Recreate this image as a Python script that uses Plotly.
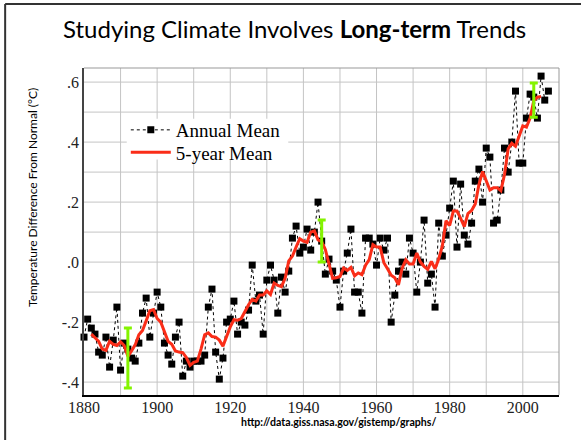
import plotly.graph_objects as go

# ---- data ----
years = list(range(1880, 2008))
annual_mean = [
    -0.25, -0.19, -0.22, -0.24, -0.30, -0.31, -0.25, -0.35, -0.26, -0.15,
    -0.36, -0.27, -0.29, -0.32, -0.33, -0.27, -0.17, -0.12, -0.25, -0.17,
    -0.10, -0.15, -0.27, -0.31, -0.34, -0.25, -0.20, -0.38, -0.33, -0.35,
    -0.33, -0.33, -0.33, -0.31, -0.15, -0.09, -0.30, -0.39, -0.32, -0.20,
    -0.19, -0.13, -0.24, -0.20, -0.21, -0.16, -0.01, -0.13, -0.11, -0.24,
    -0.06, -0.01, -0.06, -0.17, -0.05, -0.10, -0.03, 0.08, 0.12, 0.03,
    0.05, 0.11, 0.04, 0.10, 0.20, 0.07, -0.04, 0.01, -0.03, -0.06,
    -0.15, -0.03, 0.03, 0.11, -0.10, -0.10, -0.17, 0.08, 0.08, 0.06,
    -0.01, 0.08, 0.04, 0.08, -0.20, -0.11, -0.03, 0.00, -0.04, 0.08,
    0.03, -0.10, 0.00, 0.14, -0.07, -0.04, -0.15, 0.13, 0.02, 0.09,
    0.18, 0.27, 0.05, 0.26, 0.09, 0.06, 0.13, 0.27, 0.31, 0.20,
    0.38, 0.35, 0.13, 0.14, 0.24, 0.38, 0.30, 0.40, 0.57, 0.33,
    0.33, 0.48, 0.56, 0.55, 0.48, 0.62, 0.54, 0.57,
]

five_year_years = list(range(1882, 2006))
five_year_mean = [
    -0.240, -0.252, -0.264, -0.290, -0.294, -0.264, -0.274, -0.278,
    -0.266, -0.278, -0.314, -0.296, -0.276, -0.242, -0.228, -0.196, -0.162, -0.158,
    -0.188, -0.200, -0.234, -0.264, -0.274, -0.296, -0.300, -0.302, -0.318, -0.344,
    -0.334, -0.330, -0.290, -0.242, -0.236, -0.248, -0.250, -0.260, -0.280, -0.246,
    -0.216, -0.192, -0.194, -0.188, -0.164, -0.142, -0.124, -0.130, -0.110, -0.110,
    -0.096, -0.108, -0.070, -0.078, -0.082, -0.054, 0.004, 0.020, 0.050, 0.078,
    0.070, 0.066, 0.100, 0.104, 0.074, 0.068, 0.042, -0.010, -0.054, -0.052,
    -0.048, -0.020, -0.028, -0.018, -0.046, -0.036, -0.042, -0.010, 0.008, 0.058,
    0.050, 0.050, -0.002, -0.022, -0.044, -0.052, -0.076, -0.020, 0.008, -0.006,
    -0.006, 0.030, 0.000, -0.014, -0.024, 0.002, -0.022, 0.010, 0.054, 0.138,
    0.122, 0.170, 0.170, 0.146, 0.118, 0.162, 0.172, 0.194, 0.258, 0.302,
    0.274, 0.240, 0.248, 0.248, 0.238, 0.292, 0.378, 0.396, 0.386, 0.422,
    0.454, 0.450, 0.480, 0.538, 0.550, 0.552,
]

err_years = [1892, 1945, 2003]
err_center = [-0.32, 0.07, 0.54]
err_half = [0.10, 0.07, 0.057]

y_tick_vals = [-0.4, -0.2, 0.0, 0.2, 0.4, 0.6]
y_tick_text = ["-.4", "-.2", ".0", ".2", ".4", ".6"]
x_tick_vals = [1880, 1900, 1920, 1940, 1960, 1980, 2000]

# ---- figure ----
fig = go.Figure()

fig.add_trace(go.Scatter(
    x=years, y=annual_mean, name="Annual Mean",
    mode="lines+markers",
    line=dict(color="black", width=1, dash="dot"),
    marker=dict(symbol="square", size=7, color="black"),
    cliponaxis=False, legend="legend",
))
fig.add_trace(go.Scatter(
    x=five_year_years, y=five_year_mean, name="5-year Mean",
    mode="lines",
    line=dict(color="#fa2d18", width=3),
    legend="legend2",
))
fig.add_trace(go.Scatter(
    x=err_years, y=err_center, mode="markers",
    marker=dict(size=1, color="rgba(0,0,0,0)"),
    error_y=dict(type="data", array=err_half, visible=True,
                 color="#84f400", thickness=3, width=4),
    showlegend=False,
))

legend_font = dict(family="Liberation Serif", size=19, color="black")
grid = "#c4c4c4"
fig.update_layout(
    width=581, height=440,
    margin=dict(l=84, r=22, t=68, b=45),
    paper_bgcolor="white", plot_bgcolor="white",
    showlegend=True,
    legend=dict(
        x=0.088, y=0.8685, xanchor="left", yanchor="top",
        bgcolor="rgba(0,0,0,0)", borderwidth=0, font=legend_font, itemwidth=40,
    ),
    legend2=dict(
        x=0.088, y=0.80, xanchor="left", yanchor="top",
        bgcolor="rgba(0,0,0,0)", borderwidth=0, font=legend_font, itemwidth=40,
    ),
    xaxis=dict(
        range=[1880, 2009.9], tickmode="array", tickvals=x_tick_vals,
        tickfont=dict(family="Liberation Serif", size=16, color="#222"),
        showgrid=False, ticklabelstandoff=-3,
        showline=True, linecolor="black", linewidth=2,
        ticks="", zeroline=False,
    ),
    yaxis=dict(
        range=[-0.443, 0.647], tickvals=y_tick_vals, ticktext=y_tick_text,
        tickfont=dict(family="Liberation Serif", size=16, color="#222"),
        showgrid=False,
        showline=True, linecolor="#444", linewidth=1.5,
        ticks="", zeroline=False,
    ),
)

# grid lines: vertical every 10 years, horizontal every 0.1
shapes = []
for yr in range(1890, 2010, 10):
    shapes.append(dict(type="line", xref="x", yref="paper", x0=yr, x1=yr,
                       y0=0, y1=1, line=dict(color=grid, width=1), layer="below"))
for k in range(-4, 7):
    v = k / 10
    shapes.append(dict(type="line", xref="paper", yref="y", x0=0, x1=1,
                       y0=v, y1=v, line=dict(color=grid, width=1), layer="below"))
# white backing behind the legend
shapes.append(dict(type="rect", xref="paper", yref="paper",
                   x0=0.09, x1=0.43, y0=0.72, y1=0.845,
                   line=dict(width=0), fillcolor="white", layer="below"))
# top / right frame of plot
shapes.append(dict(type="line", xref="paper", yref="paper", x0=0, x1=1, y0=1, y1=1,
                   line=dict(color="#999", width=1)))
shapes.append(dict(type="line", xref="paper", yref="paper", x0=1, x1=1, y0=0, y1=1,
                   line=dict(color="#999", width=1)))
# slide frame (top & left)
shapes.append(dict(type="line", xref="paper", yref="paper", x0=-0.166, x1=1.1,
                   y0=1.196, y1=1.196, line=dict(color="#333", width=2)))
shapes.append(dict(type="line", xref="paper", yref="paper", x0=-0.166, x1=-0.166,
                   y0=1.196, y1=-0.2, line=dict(color="#333", width=2)))
fig.update_layout(shapes=shapes)

fig.add_annotation(
    text="Studying Climate Involves <b>Long-term</b> Trends",
    xref="paper", yref="paper", x=0.443, y=1.12, xanchor="center", yanchor="middle",
    showarrow=False, font=dict(family="Lato", size=24, color="black"),
)
fig.add_annotation(
    text="Temperature Difference From Normal (°C)", textangle=-90,
    xref="paper", yref="paper", x=-0.107, y=0.603, xanchor="center", yanchor="middle",
    showarrow=False, font=dict(family="Lato", size=12, color="black"),
)
fig.add_annotation(
    text="<b>http://data.giss.nasa.gov/gistemp/graphs/</b>",
    xref="paper", yref="paper", x=0.536, y=-0.0815, xanchor="center", yanchor="middle",
    showarrow=False, font=dict(family="Lato", size=10.6, color="black"),
)

fig.write_html("out.html", post_script="document.body.style.margin='0';",
               config={"displayModeBar": False})
